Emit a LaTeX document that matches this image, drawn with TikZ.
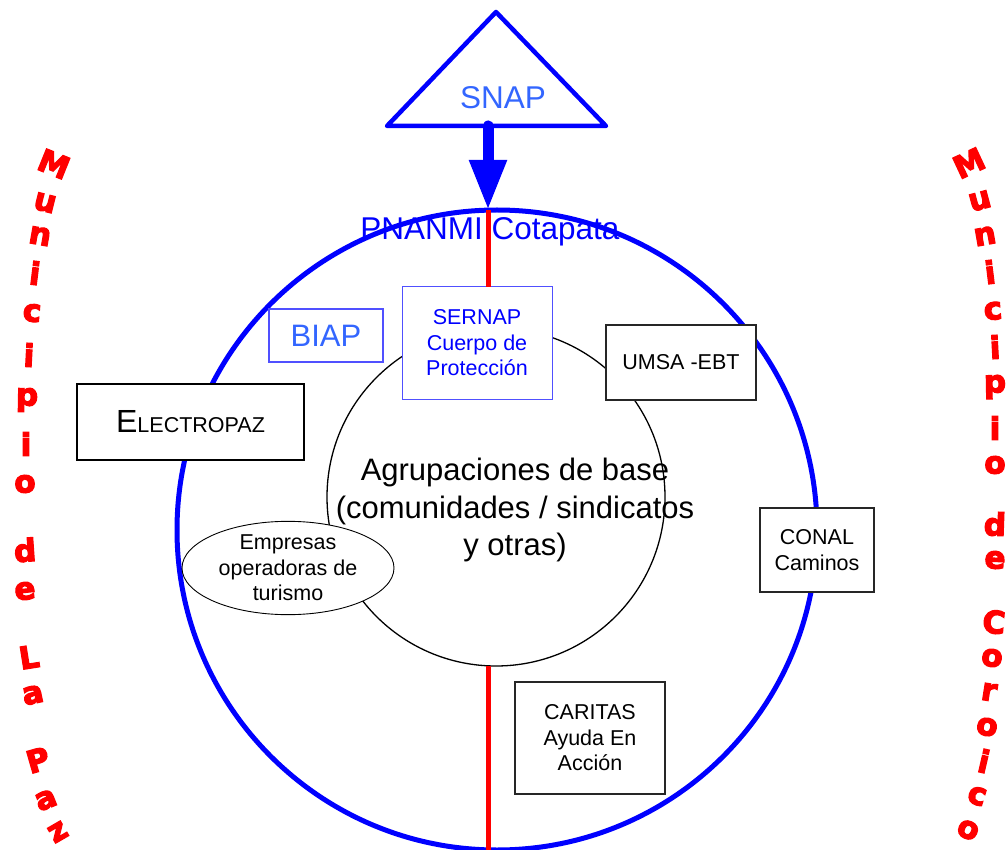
\documentclass[tikz,border=0pt]{standalone}
\usepackage{fontspec}
\setmainfont{Liberation Sans}
\newfontfamily\wordart{DejaVu Sans Bold}[FakeBold=4]
\usetikzlibrary{arrows.meta,shapes.geometric}
\definecolor{pblue}{RGB}{0,0,255}
\definecolor{lblue}{RGB}{51,102,255}
\definecolor{sblue}{RGB}{80,80,255}
\definecolor{pred}{RGB}{255,0,0}
\tikzset{
  obox/.style={draw=black, line width=1.3pt, fill=white, align=center, inner sep=0pt, outer sep=0pt,
    font=\fontsize{21.5}{25.5}\selectfont},
  bigtxt/.style={font=\fontsize{31.5}{36}\selectfont},
  arcletter/.style={text=pred, font=\wordart\fontsize{31}{31}\selectfont, inner sep=0pt},
  redline/.style={draw=pred, line width=5pt},
}
\begin{document}
\begin{tikzpicture}[x=1pt,y=-1pt]
\useasboundingbox (0,0) rectangle (1007,850);
\clip (0,0) rectangle (1007,850);

% big circle
\node[circle, draw=pblue, line width=5pt, minimum size=640pt, inner sep=0pt, outer sep=0pt] (pn) at (497,530) {};
% red line ends
\coordinate (rt) at (488,210);
\coordinate (rb) at (488,850);

% inner circle
\node[circle, draw=black, line width=1.3pt, minimum size=338pt, inner sep=0pt, outer sep=0pt] (agr) at (496,497) {};
\node[align=center, font=\fontsize{31}{37.5}\selectfont] (base) at (515,510)
  {Agrupaciones de base\\(comunidades / sindicatos\\y otras)};

% SERNAP box
\node[obox, draw=sblue, line width=1pt, text=pblue, minimum width=150pt, minimum height=112pt] (sernap) at (477,343)
  {SERNAP\\Cuerpo de\\Protecci\'on};
\draw[redline] (rt) -- (rt |- sernap.north);
\draw[redline] (agr.south -| rb) -- (rb);

% triangle SNAP
\coordinate (apex) at (496,12);
\coordinate (bl) at (387,126);
\coordinate (br) at (606,126);
\draw[pblue, line width=4.5pt, line join=round] (apex) -- (bl) -- (br) -- cycle;
\node[bigtxt, text=lblue, anchor=base] (snap) at (503,109) {SNAP};
\coordinate (as) at (488,126);
\draw[pblue, line width=11pt, line cap=round, -{Triangle[width=35pt,length=50pt]}] (as) -- (rt);

% PNANMI label
\node[bigtxt, text=pblue, anchor=base, inner sep=0pt] (pnanmi) at (490,240) {PNANMI Cotapata};

% other boxes
\node[obox, draw=sblue, line width=1.5pt, text=lblue, font=\fontsize{31}{36}\selectfont,
  minimum width=114pt, minimum height=53pt] (biap) at (326,335.5) {BIAP};
\node[obox, minimum width=227pt, minimum height=76pt] (elec) at (190.5,422)
  {\fontsize{32}{36}\selectfont E\fontsize{21.5}{26}\selectfont LECTROPAZ};
\node[obox, draw=black!85, minimum width=150pt, minimum height=75pt] (umsa) at (681,362.5) {UMSA -EBT};
\node[obox, draw=black!85, minimum width=114pt, minimum height=84pt] (conal) at (817,550) {CONAL\\Caminos};
\node[obox, draw=black!85, minimum width=150pt, minimum height=112pt] (caritas) at (590,738) {CARITAS\\Ayuda En\\Acci\'on};
\node[obox, ellipse, line width=0.9pt, minimum width=212pt, minimum height=82pt] (emp) at (288,568)
  {Empresas\\operadoras de\\turismo};

% arc letters left
\foreach \x/\y/\r/\l [count=\i] in {54/164/-22/M, 45/203/-14/u, 40/236/-10/n, 35/273/-7/i, 32/313/-5/c,
  29/355/-3/i, 27/400/-1/p, 26/444/0/i, 25/484/2/o, 25/550/4/d, 25/591/6/e, 29/657/9/L,
  33/695/12/a, 38/760/16/P, 46/800/22/a, 58/832/30/z}
  \node[arcletter, rotate=\r] (lp\i) at (\x,\y) {\l};
% arc letters right
\foreach \x/\y/\r/\l [count=\i] in {969/163/25/M, 980/201/15/u, 985/236/10/n, 990/272/7/i, 993/311/5/c,
  995/347/3/i, 995/387/1/p, 995/428/0/i, 995/465/-1/o, 995/524/-2/d, 995/560/-3/e, 994/622/-5/C,
  992/658/-7/o, 989/692/-9/r, 987/727/-11/o, 984/761/-13/i, 977/796/-17/c, 968/830/-24/o}
  \node[arcletter, rotate=\r] (rc\i) at (\x,\y) {\l};
\end{tikzpicture}
\end{document}
